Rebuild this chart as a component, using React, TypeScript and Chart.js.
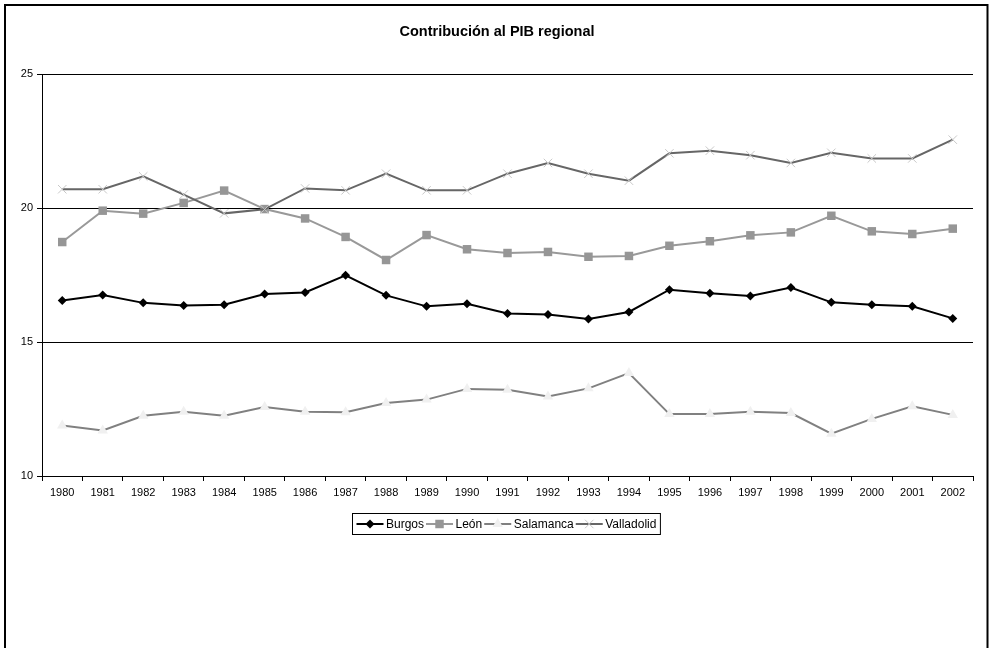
import React, { useEffect, useRef } from "react";
import { Chart, registerables } from "chart.js";
import { drawPoint } from "chart.js/helpers";

Chart.register(...registerables);

const years = ["1980","1981","1982","1983","1984","1985","1986","1987","1988","1989","1990","1991","1992","1993","1994","1995","1996","1997","1998","1999","2000","2001","2002"];
const burgos = [16.55,16.75,16.46,16.36,16.39,16.79,16.85,17.49,16.74,16.33,16.43,16.06,16.03,15.86,16.12,16.95,16.82,16.72,17.03,16.48,16.39,16.33,15.88];
const leon = [18.73,19.9,19.79,20.19,20.65,19.96,19.61,18.92,18.06,18.99,18.46,18.32,18.36,18.18,18.21,18.59,18.76,18.98,19.09,19.71,19.13,19.03,19.23];
const salamanca = [11.88,11.7,12.25,12.4,12.25,12.57,12.4,12.38,12.72,12.85,13.25,13.22,12.97,13.27,13.84,12.31,12.31,12.4,12.35,11.58,12.13,12.6,12.28];
const valladolid = [20.7,20.7,21.18,20.5,19.8,19.95,20.73,20.66,21.28,20.66,20.66,21.28,21.68,21.28,21.02,22.04,22.14,21.97,21.68,22.06,21.85,21.85,22.55];
const seriesNames = ["Burgos", "León", "Salamanca", "Valladolid"];
const titleText = "Contribución al PIB regional";
const yTicks = { min: 10, max: 25, step: 5 };

const FONT = 'Arial, "Liberation Sans", sans-serif';

const framePlugin = {
  id: "frame",
  afterDraw(chart: any) {
    const ctx = chart.ctx;
    ctx.save();
    ctx.strokeStyle = "#000";
    ctx.lineWidth = 2;
    ctx.strokeRect(5, 5, 982.5, 700);
    ctx.restore();
  },
};

const legendPlugin = {
  id: "boxLegend",
  afterDraw(chart: any) {
    const ctx = chart.ctx;
    const area = chart.chartArea;
    ctx.save();
    ctx.font = "12px " + FONT;
    const seg = 27, gapText = 2.5, gapItem = 2, pad = 4;
    const ds = chart.data.datasets;
    const widths = ds.map((d: any) => ctx.measureText(d.label).width);
    let total = pad * 2;
    widths.forEach((w: number, i: number) => {
      total += seg + gapText + w + (i < widths.length - 1 ? gapItem : 0);
    });
    const cx = (area.left + area.right) / 2 - 2;
    const left = Math.round(cx - total / 2) + 0.5;
    const top = 513.5, h = 21;
    const midY = top + h / 2;
    ctx.fillStyle = "#fff";
    ctx.fillRect(left, top, total, h);
    ctx.strokeStyle = "#000";
    ctx.lineWidth = 1;
    ctx.strokeRect(left, top, total, h);
    let x = left + pad;
    ds.forEach((d: any, i: number) => {
      ctx.strokeStyle = d.borderColor;
      ctx.lineWidth = d.borderWidth;
      ctx.beginPath();
      ctx.moveTo(x, midY);
      ctx.lineTo(x + seg, midY);
      ctx.stroke();
      ctx.fillStyle = d.pointBackgroundColor;
      ctx.strokeStyle = d.pointBorderColor;
      ctx.lineWidth = d.pointBorderWidth;
      drawPoint(ctx, { pointStyle: d.pointStyle, rotation: 0, radius: d.pointRadius, borderWidth: d.pointBorderWidth }, x + seg / 2, midY);
      x += seg + gapText;
      ctx.fillStyle = "#000";
      ctx.textBaseline = "middle";
      ctx.textAlign = "left";
      ctx.fillText(d.label, x, midY + 0.5);
      x += widths[i] + gapItem;
    });
    ctx.restore();
  },
};

export default function App() {
  const ref = useRef<HTMLCanvasElement | null>(null);
  useEffect(() => {
    if (!ref.current) return;
    const chart = new Chart(ref.current, {
      type: "line",
      data: {
        labels: years,
        datasets: [
          {
            label: seriesNames[0],
            data: burgos,
            borderColor: "#000000",
            borderWidth: 2,
            pointStyle: "rectRot",
            pointRadius: 4.5,
            pointBackgroundColor: "#000000",
            pointBorderColor: "#000000",
            pointBorderWidth: 0,
            tension: 0,
            order: 3,
          },
          {
            label: seriesNames[1],
            data: leon,
            borderColor: "#999999",
            borderWidth: 2,
            pointStyle: "rect",
            pointRadius: 6,
            pointBackgroundColor: "#969696",
            pointBorderColor: "#969696",
            pointBorderWidth: 0,
            tension: 0,
            order: 2,
          },
          {
            label: seriesNames[2],
            data: salamanca,
            borderColor: "#808080",
            borderWidth: 2,
            pointStyle: "triangle",
            pointRadius: 6,
            pointBackgroundColor: "#f0f0f0",
            pointBorderColor: "#f0f0f0",
            pointBorderWidth: 0,
            tension: 0,
            order: 1,
          },
          {
            label: seriesNames[3],
            data: valladolid,
            borderColor: "#666666",
            borderWidth: 2,
            pointStyle: "crossRot",
            pointRadius: 6,
            pointBackgroundColor: "#c8c8c8",
            pointBorderColor: "#c8c8c8",
            pointBorderWidth: 1,
            tension: 0,
            order: 0,
          },
        ],
      },
      options: {
        responsive: false,
        animation: false,
        events: [],
        layout: { padding: { left: 21, right: 18, top: 0, bottom: 152 } },
        plugins: {
          legend: { display: false },
          tooltip: { enabled: false },
          title: {
            display: true,
            text: titleText,
            color: "#000",
            font: { family: FONT, size: 14.5, weight: "bold", lineHeight: 1.2 },
            padding: { top: 23.5, bottom: 33.1 },
          },
        },
        scales: {
          x: {
            offset: true,
            grid: {
              display: true,
              drawOnChartArea: false,
              drawTicks: true,
              tickLength: 5,
              color: "#000",
              offset: true,
            },
            border: { display: true, color: "#000", width: 1 },
            ticks: {
              color: "#000",
              font: { family: FONT, size: 11 },
              padding: 5,
              maxRotation: 0,
              autoSkip: false,
            },
            afterFit(scale: any) {
              scale.height = 20;
            },
          },
          y: {
            min: yTicks.min,
            max: yTicks.max,
            grid: {
              color: "#000",
              lineWidth: 1,
              drawTicks: true,
              tickLength: 5,
            },
            border: { display: true, color: "#000", width: 1 },
            ticks: {
              stepSize: yTicks.step,
              color: "#000",
              font: { family: FONT, size: 11 },
              padding: 4,
            },
            afterFit(scale: any) {
              scale.width = 21;
            },
          },
        },
      },
      plugins: [framePlugin, legendPlugin],
    });
    return () => chart.destroy();
  }, []);
  return (
    <div style={{ position: "absolute", left: 0, top: 0, width: 991, height: 648, background: "#fff" }}>
      <canvas ref={ref} width={991} height={648} style={{ display: "block" }} />
    </div>
  );
}
